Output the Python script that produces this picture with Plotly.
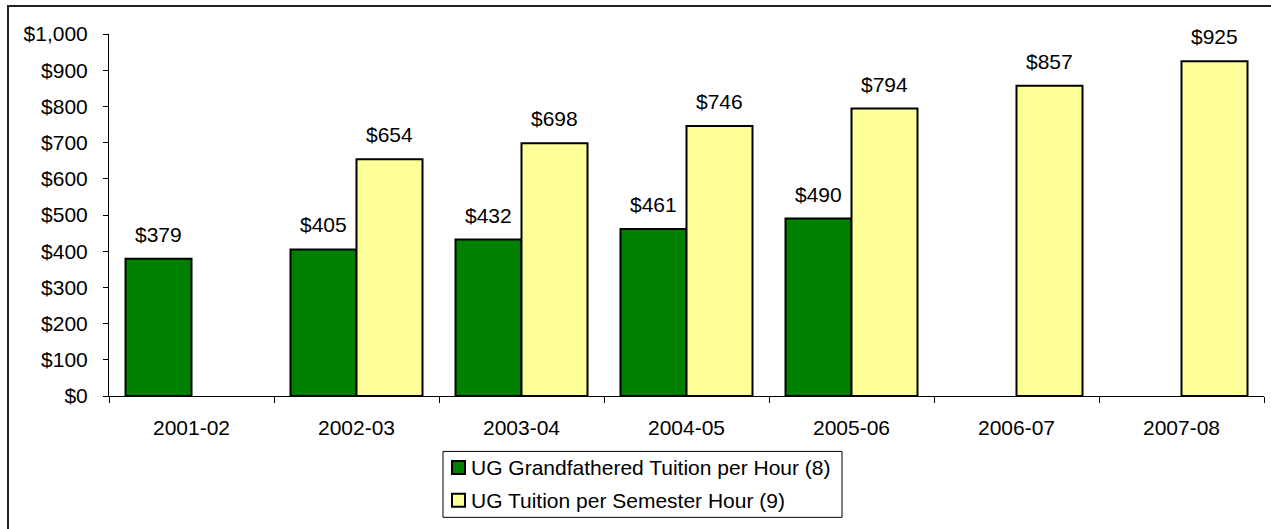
import plotly.graph_objects as go

# Academic years on the category axis
years = ["2001-02", "2002-03", "2003-04", "2004-05", "2005-06", "2006-07", "2007-08"]

# Tuition per hour, in dollars (None where the rate did not apply)
grandfathered = [379, 405, 432, 461, 490, None, None]
per_semester_hour = [None, 654, 698, 746, 794, 857, 925]

series_names = ["UG Grandfathered Tuition per Hour (8)", "UG Tuition per Semester Hour (9)"]
series_colors = ["#008000", "#FFFF99"]

y_ticks = [0, 100, 200, 300, 400, 500, 600, 700, 800, 900, 1000]
y_tick_text = [f"${v:,}" for v in y_ticks]

FONT = "Arial, Liberation Sans, sans-serif"
FS = 21

# Figure geometry (pixels)
W, H = 1271, 529
L, R, T, B = 109, 7, 34, 132.5
PW, PH = W - L - R, H - T - B


def px_x(x):
    return (x - L) / PW


def px_y(y):
    return (H - B - y) / PH


fig = go.Figure()
for vals, name, color in zip((grandfathered, per_semester_hour), series_names, series_colors):
    fig.add_trace(go.Bar(
        x=years, y=vals, name=name, showlegend=False,
        marker=dict(color=color, line=dict(color="#000000", width=2)),
    ))

# Value labels above each bar
annotations = []
for series, shift in ((grandfathered, -33), (per_semester_hour, 33)):
    for yr, v in zip(years, series):
        if v is None:
            continue
        annotations.append(dict(
            x=yr, y=v, xref="x", yref="y", text=f"${v:,}", showarrow=False,
            xshift=shift, yanchor="bottom", yshift=11,
            font=dict(family=FONT, size=FS, color="#000000"),
        ))

shapes = [
    # outer chart frame
    dict(type="rect", xref="paper", yref="paper",
         x0=px_x(8), x1=px_x(1300), y0=px_y(560), y1=px_y(6),
         line=dict(color="#222222", width=2), layer="below"),
    # legend box
    dict(type="rect", xref="paper", yref="paper",
         x0=px_x(443), x1=px_x(842), y0=px_y(518), y1=px_y(452),
         line=dict(color="#000000", width=1), fillcolor="white"),
]

# Legend rows: swatch + label
row_centers = [468, 501]
for name, color, yc in zip(series_names, series_colors, row_centers):
    shapes.append(dict(
        type="rect", xref="paper", yref="paper",
        x0=px_x(452), x1=px_x(465), y0=px_y(yc + 6.5), y1=px_y(yc - 6.5),
        line=dict(color="#000000", width=2), fillcolor=color,
    ))
    annotations.append(dict(
        x=px_x(469), y=px_y(yc), xref="paper", yref="paper", text=name,
        showarrow=False, xanchor="left", yanchor="middle",
        font=dict(family=FONT, size=FS, color="#000000"),
    ))

fig.update_layout(
    width=W, height=H,
    margin=dict(l=L, r=R, t=T, b=B),
    paper_bgcolor="white", plot_bgcolor="white",
    barmode="group", bargap=0.2, bargroupgap=0,
    font=dict(family=FONT, size=FS, color="#000000"),
    showlegend=False,
    annotations=annotations,
    shapes=shapes,
)
fig.update_xaxes(
    type="category", showline=True, linecolor="#000000", linewidth=1,
    ticks="outside", ticklen=6, tickcolor="#000000", tickson="boundaries",
    ticklabelstandoff=13,
    showgrid=False, tickfont=dict(family=FONT, size=FS),
)
fig.update_yaxes(
    range=[0, 1000], tickvals=y_ticks, ticktext=y_tick_text,
    showline=True, linecolor="#000000", linewidth=1,
    ticks="outside", ticklen=5, tickcolor="#000000", ticklabelstandoff=11,
    showgrid=False, zeroline=False, tickfont=dict(family=FONT, size=FS),
)

fig.write_html("out.html")
